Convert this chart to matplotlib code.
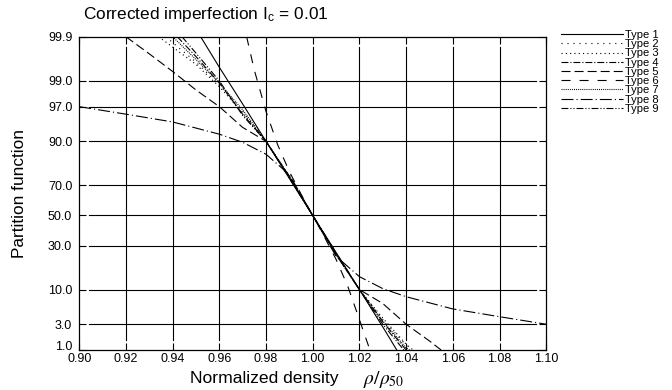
import numpy as np
import matplotlib
matplotlib.use('Agg')
import matplotlib.pyplot as plt
from statistics import NormalDist

plt.rcParams['font.family'] = ['Liberation Sans', 'DejaVu Sans']
plt.rcParams['mathtext.fontset'] = 'stix'
plt.rcParams['lines.scale_dashes'] = False

# ---------------- data ----------------
x_ticks = [0.90, 0.92, 0.94, 0.96, 0.98, 1.00, 1.02, 1.04, 1.06, 1.08, 1.10]
x_tick_labels = ["0.90", "0.92", "0.94", "0.96", "0.98", "1.00", "1.02", "1.04", "1.06", "1.08", "1.10"]
y_ticks = [1.0, 3.0, 10.0, 30.0, 50.0, 70.0, 90.0, 97.0, 99.0, 99.9]
y_tick_labels = ["1.0", "3.0", "10.0", "30.0", "50.0", "70.0", "90.0", "97.0", "99.0", "99.9"]

type_names = ["Type 1", "Type 2", "Type 3", "Type 4", "Type 5", "Type 6", "Type 7", "Type 8", "Type 9"]

t1_x = [0.952, 0.96, 0.97, 0.98, 0.99, 1.00, 1.01, 1.02, 1.03, 1.036]
t1_p = [99.9, 99.48, 97.3, 90.0, 73.9, 50.0, 26.1, 10.0, 2.7, 1.0]

t2_x = [0.937, 0.94, 0.95, 0.96, 0.97, 0.98, 0.99, 1.00, 1.01, 1.02, 1.03, 1.04, 1.042]
t2_p = [99.9, 99.86, 99.6, 98.8, 96.4, 90.0, 75.0, 50.0, 25.0, 10.0, 3.6, 1.25, 1.0]

t3_x = [0.934, 0.94, 0.95, 0.96, 0.97, 0.98, 0.99, 1.00, 1.01, 1.02, 1.03, 1.04, 1.043]
t3_p = [99.9, 99.82, 99.55, 98.7, 96.2, 90.0, 74.8, 50.0, 25.2, 10.0, 3.8, 1.3, 1.0]

t4_x = [0.942, 0.95, 0.96, 0.97, 0.98, 0.99, 1.00, 1.01, 1.02, 1.03, 1.04]
t4_p = [99.9, 99.7, 98.9, 96.0, 90.0, 74.5, 50.0, 25.5, 10.0, 3.3, 1.0]

t5_x = [0.92, 0.93, 0.94, 0.95, 0.96, 0.97, 0.98, 0.99, 1.00, 1.01, 1.02, 1.03, 1.04, 1.05, 1.055]
t5_p = [99.9, 99.74, 99.36, 98.5, 97.0, 93.6, 90.0, 75.0, 50.0, 25.0, 10.0, 6.4, 3.0, 1.5, 1.0]

t6_x = [0.9717, 0.975, 0.98, 0.985, 0.99, 0.995, 1.00, 1.005, 1.01, 1.015, 1.02, 1.0245]
t6_p = [99.9, 99.4, 96.4, 88.9, 77.6, 64.4, 50.0, 35.6, 22.4, 11.1, 3.6, 1.0]

t7_x = [0.940, 0.95, 0.96, 0.97, 0.98, 0.99, 1.00, 1.01, 1.02, 1.03, 1.04, 1.0415]
t7_p = [99.9, 99.65, 98.9, 96.6, 90.0, 75.2, 50.0, 24.8, 10.0, 3.4, 1.1, 1.0]

t8_x = [0.90, 0.92, 0.94, 0.96, 0.97, 0.98, 0.99, 1.00, 1.01, 1.02, 1.03, 1.04, 1.06, 1.08, 1.10]
t8_p = [97.0, 96.0, 94.7, 92.0, 89.7, 85.5, 76.0, 50.0, 24.0, 14.5, 10.3, 8.0, 5.3, 4.0, 3.0]

t9_x = [0.944, 0.95, 0.96, 0.97, 0.98, 0.99, 1.00, 1.01, 1.02, 1.03, 1.039]
t9_p = [99.9, 99.75, 99.0, 95.8, 90.0, 74.0, 50.0, 26.0, 10.0, 3.0, 1.0]

series_x = [t1_x, t2_x, t3_x, t4_x, t5_x, t6_x, t7_x, t8_x, t9_x]
series_p = [t1_p, t2_p, t3_p, t4_p, t5_p, t6_p, t7_p, t8_p, t9_p]

styles = [
    '-',
    (0, (0.8, 3.5)),
    (0, (0.8, 2.3)),
    (0, (5, 1.4, 0.8, 1.4)),
    (0, (6.5, 2.9)),
    (0, (6.5, 6.5)),
    (0, (0.7, 0.8)),
    (0, (8.6, 2.2, 0.8, 2.2)),
    (0, (5, 1.4, 0.8, 1.4, 0.8, 1.4)),
]

# ---------------- normal-probability y scale ----------------
_nd = NormalDist()
_f = np.vectorize(lambda v: _nd.inv_cdf(v / 100.0), otypes=[float])
_i = np.vectorize(lambda v: _nd.cdf(v) * 100.0, otypes=[float])

def fwd(p):
    p = np.clip(np.asarray(p, dtype=float), 1e-9, 100 - 1e-9)
    return _f(p)

def inv(z):
    return _i(np.asarray(z, dtype=float))

fig = plt.figure(figsize=(6.72, 3.9), dpi=100)
ax = fig.add_axes([79.2 / 672, 40 / 390, 467 / 672, 313.3 / 390])
ax.set_yscale('function', functions=(fwd, inv))

for xs, ps, ls, name in zip(series_x, series_p, styles, type_names):
    ax.plot(xs, ps, color='black', lw=0.8, ls=ls, label=name, zorder=3)

ax.set_xlim(0.90, 1.10)
ax.set_ylim(1.0, 99.9)

gx = 10 / 467
gy = 10 / 313
for xv in x_ticks[1:-1]:
    ax.axvline(xv, ymin=gy, ymax=1 - gy, color='black', lw=0.8, zorder=1)
for yv in y_ticks[1:-1]:
    ax.axhline(yv, xmin=gx, xmax=1 - gx, color='black', lw=0.8, zorder=1)

ax.set_xticks(x_ticks, x_tick_labels)
ax.set_yticks(y_ticks, y_tick_labels)
ax.minorticks_off()
ax.tick_params(direction='in', length=5, width=0.8, top=True, right=True, labelsize=9, colors='black')
ax.tick_params(axis='x', pad=2.5)
ax.tick_params(axis='y', pad=5)
ax.yaxis.get_major_ticks()[0].label1.set_verticalalignment('baseline')
for s in ax.spines.values():
    s.set_linewidth(0.9)

fig.text(83 / 672, 1 - 14 / 390, r"Corrected imperfection I$_\mathregular{c}$ = 0.01",
         ha='left', va='center', fontsize=12.4)
fig.text(20 / 672, 1 - 193 / 390, "Partition function", rotation=90,
         ha='center', va='center', fontsize=12.4)
fig.text(190 / 672, 1 - 383.5 / 390, "Normalized density",
         ha='left', va='baseline', fontsize=12.6)
fig.text(363 / 672, 1 - 383.5 / 390, r"$\rho/\rho_{50}$",
         ha='left', va='baseline', fontsize=14)

ax.legend(loc='upper left', bbox_to_anchor=(561 / 672, 1 - 30 / 390),
          bbox_transform=fig.transFigure, frameon=False, fontsize=8,
          handlelength=5.6, labelspacing=-0.07, handletextpad=0.18,
          borderpad=0, borderaxespad=0)

fig.savefig('out.png', dpi=100)
